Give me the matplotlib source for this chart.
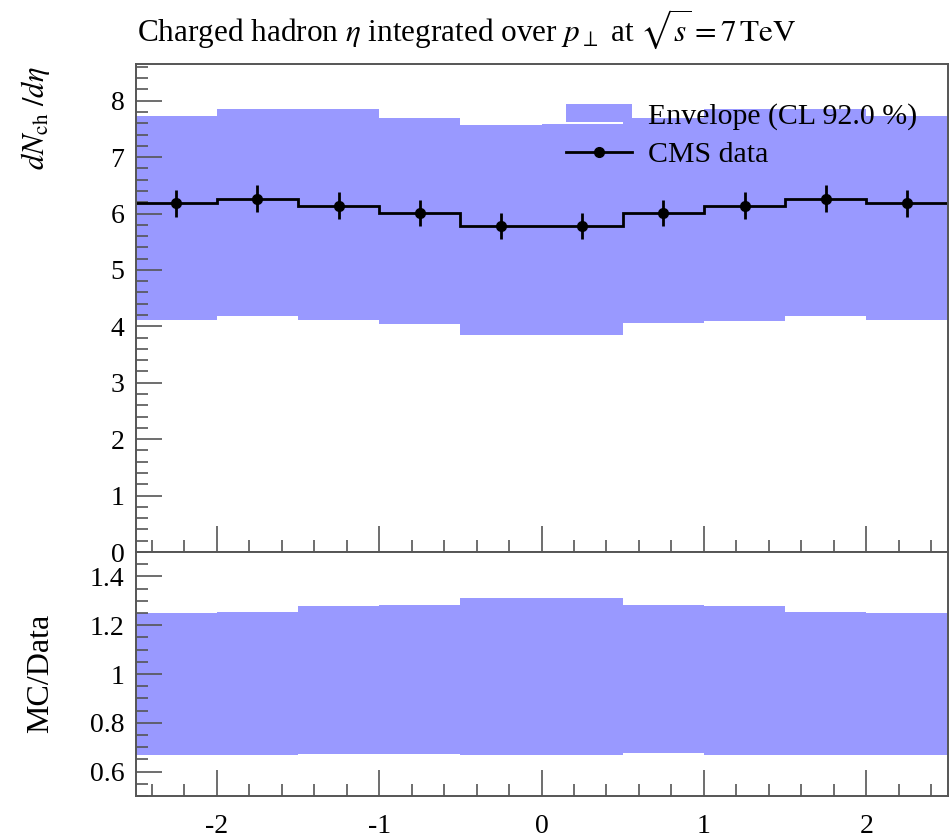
import numpy as np
import matplotlib
matplotlib.use("Agg")
import matplotlib.pyplot as plt
from matplotlib.ticker import MultipleLocator, FixedLocator
from matplotlib.patches import Patch
from matplotlib.lines import Line2D

# --- data -------------------------------------------------------------
bin_edges = [-2.5, -2.0, -1.5, -1.0, -0.5, 0.0, 0.5, 1.0, 1.5, 2.0, 2.5]
data_vals = [6.18, 6.26, 6.14, 6.01, 5.78, 5.78, 6.01, 6.14, 6.26, 6.18]
data_errs = [0.24, 0.24, 0.24, 0.23, 0.23, 0.23, 0.23, 0.24, 0.24, 0.24]
env_high = [7.73, 7.86, 7.85, 7.70, 7.57, 7.58, 7.70, 7.85, 7.86, 7.73]
env_low = [4.12, 4.19, 4.12, 4.05, 3.85, 3.85, 4.06, 4.10, 4.19, 4.12]
x_tick_vals = [-2, -1, 0, 1, 2]
x_tick_labels = ["-2", "-1", "0", "1", "2"]

title = r"Charged hadron $\eta$ integrated over $p_\perp$ at $\sqrt{s} = 7\,\mathrm{TeV}$"
ylabel_main = r"$dN_{\mathrm{ch}}\ /d\eta$"
ylabel_ratio = "MC/Data"
legend_env = "Envelope (CL 92.0 %)"
legend_data = "CMS data"

# --- style ------------------------------------------------------------
plt.rcParams["font.family"] = ["Liberation Serif", "DejaVu Serif"]
plt.rcParams["mathtext.fontset"] = "stix"
plt.rcParams["axes.unicode_minus"] = False

ENV_COLOR = "#9999ff"
SPINE_COLOR = "#555555"

edges = np.array(bin_edges)
centers = 0.5 * (edges[:-1] + edges[1:])
widths = np.diff(edges)
data = np.array(data_vals)
hi = np.array(env_high)
lo = np.array(env_low)

fig = plt.figure(figsize=(9.5, 8.4), dpi=100)
W, H = 950.0, 840.0
left, right = 135.5 / W, 947.5 / W
ax = fig.add_axes([left, 1 - 552 / H, right - left, (552 - 64) / H])
axr = fig.add_axes([left, 1 - 796 / H, right - left, (796 - 552) / H], sharex=ax)

# main panel: envelope band, data histogram, data points
ax.bar(edges[:-1], hi - lo, width=widths, bottom=lo, align="edge",
       color=ENV_COLOR, linewidth=0, zorder=1)
ax.stairs(data, edges, baseline=None, color="black", linewidth=2.0, zorder=3)
ax.errorbar(centers, data, yerr=data_errs, fmt="o", color="black",
            markersize=7, elinewidth=2.0, capsize=0, zorder=4)

# ratio panel: envelope relative to data
axr.bar(edges[:-1], (hi - lo) / data, width=widths, bottom=lo / data,
        align="edge", color=ENV_COLOR, linewidth=0, zorder=1)

ax.set_xlim(edges[0], edges[-1])
ax.set_ylim(0, 8.65)
axr.set_ylim(0.5, 1.5)

for a in (ax, axr):
    for s in a.spines.values():
        s.set_color(SPINE_COLOR)
        s.set_linewidth(1.4)
        s.set_zorder(5)
    a.tick_params(which="both", direction="in", color=SPINE_COLOR,
                  width=1.2, labelsize=20, top=False, right=False)
    a.tick_params(which="major", length=18.5)
    a.tick_params(which="minor", length=8.5)
    a.xaxis.set_minor_locator(MultipleLocator(0.2))

ax.yaxis.set_major_locator(MultipleLocator(1))
ax.yaxis.set_minor_locator(MultipleLocator(0.2))
axr.yaxis.set_major_locator(FixedLocator([0.6, 0.8, 1.0, 1.2, 1.4]))
axr.yaxis.set_minor_locator(MultipleLocator(0.05))
axr.set_yticklabels(["0.6", "0.8", "1", "1.2", "1.4"])

ax.tick_params(axis="x", labelbottom=False)
axr.set_xticks(x_tick_vals)
axr.set_xticklabels(x_tick_labels)
axr.tick_params(axis="x", pad=13)
ax.tick_params(axis="y", pad=8)
axr.tick_params(axis="y", pad=8)

# titles and labels
fig.text(137 / W, 1 - 41 / H, title, fontsize=22.5, ha="left", va="baseline")
fig.text(35 / W, 1 - 66 / H, ylabel_main, fontsize=22, rotation=90,
         ha="center", va="top")
fig.text(41 / W, 1 - 673 / H, ylabel_ratio, fontsize=23, rotation=90,
         ha="center", va="center")

# legend
handles = [
    Patch(facecolor=ENV_COLOR, edgecolor="none"),
    Line2D([0], [0], color="black", linewidth=2.0, marker="o", markersize=7),
]
ax.legend(handles, [legend_env, legend_data], loc="upper left",
          bbox_to_anchor=((566 - 135.5) / 812, (552 - 103) / 488),
          frameon=False, fontsize=21.5, handlelength=2.2, handleheight=0.55,
          handletextpad=0.55, labelspacing=0.4, borderpad=0,
          borderaxespad=0, numpoints=1)

fig.savefig("out.png", dpi=100)
